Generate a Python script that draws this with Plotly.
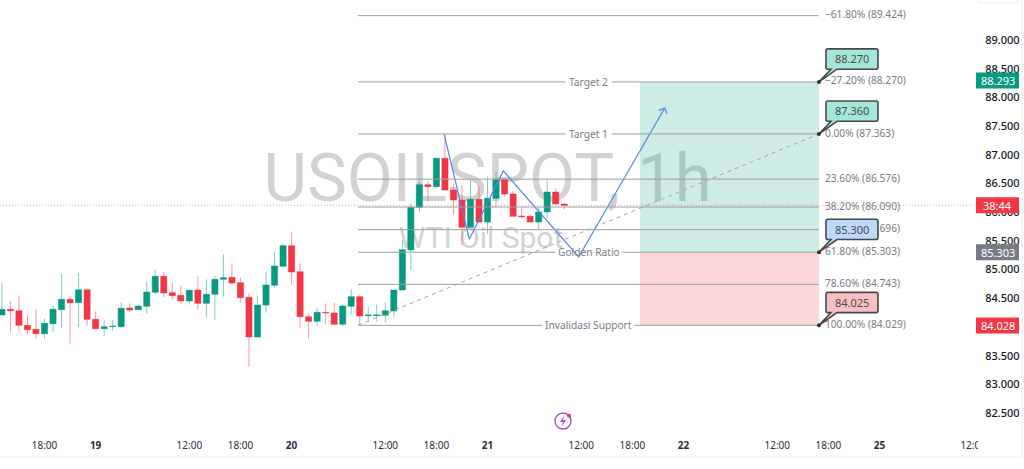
import plotly.graph_objects as go

# ---------- data ----------
opens = [84.209,84.308,84.284,84.029,83.959,83.884,84.058,84.302,84.482,84.424,84.650,84.133,83.971,84.006,84.006,84.331,84.302,84.360,84.604,84.883,84.598,84.552,84.453,84.644,84.412,84.569,84.830,84.865,84.772,84.517,83.826,84.383,84.726,85.057,85.417,84.964,
         84.180,84.098,84.255,84.244,84.046,84.360,84.528,84.197,84.197,84.203,84.279,84.644,85.341,86.085,86.479,86.445,86.938,86.386,86.212,85.736,86.224,85.829,86.241,86.572,86.317,85.934,85.928,85.829,86.003,86.352,86.143]
highs = [84.761,84.453,84.552,84.203,84.313,84.145,84.377,84.935,84.528,84.935,84.650,84.273,84.133,84.122,84.430,84.412,84.406,84.801,84.993,84.958,84.772,84.720,84.650,84.883,84.830,84.888,85.266,85.109,84.865,84.586,84.552,84.958,85.312,85.457,85.649,85.109,
         84.238,84.325,84.412,84.424,84.395,84.662,84.569,84.354,84.395,84.429,84.644,85.515,86.154,86.532,86.543,86.938,87.345,86.503,86.474,86.549,86.445,86.619,86.694,86.572,86.369,86.067,85.957,86.085,86.561,86.416,86.154]
lows = [84.209,83.901,83.924,83.872,83.797,83.797,83.913,83.988,83.710,84.006,84.017,83.965,83.843,83.936,83.977,84.261,84.296,84.232,84.575,84.523,84.476,84.401,84.389,84.296,84.168,84.128,84.528,84.726,84.424,83.309,83.820,84.250,84.685,85.051,84.737,83.988,
        83.785,84.017,84.046,84.035,84.017,84.209,84.035,84.081,84.093,84.075,84.180,84.644,84.993,85.997,86.183,86.427,86.386,85.951,85.428,85.736,85.829,85.620,86.085,86.270,85.922,85.887,85.829,85.701,85.893,86.125,86.050]
closes = [84.308,84.284,84.029,83.953,83.884,84.064,84.308,84.482,84.424,84.650,84.133,83.971,84.006,84.012,84.325,84.296,84.366,84.610,84.883,84.592,84.546,84.453,84.639,84.412,84.569,84.830,84.859,84.766,84.511,83.826,84.383,84.732,85.063,85.417,84.958,84.180,
          84.098,84.255,84.249,84.046,84.366,84.528,84.191,84.209,84.209,84.284,84.644,85.347,86.085,86.479,86.445,86.938,86.386,86.212,85.736,86.224,85.829,86.241,86.572,86.317,85.928,85.922,85.829,86.003,86.352,86.143,86.120]

tick_vals = [5, 11, 22, 28, 34, 45, 51, 57, 68, 74, 80, 91, 97, 103, 114]
tick_text = ["18:00", "<b>19</b>", "12:00", "18:00", "<b>20</b>", "12:00", "18:00", "<b>21</b>",
             "12:00", "18:00", "<b>22</b>", "12:00", "18:00", "<b>25</b>", "12:00"]
price_ticks = [82.5, 83, 83.5, 84, 84.5, 85, 85.5, 86, 86.5, 87, 87.5, 88, 88.5, 89]

fib_prices = [89.424, 88.270, 87.363, 86.576, 86.090, 85.696, 85.303, 84.743, 84.029]
fib_labels = ["−61.80% (89.424)", "−27.20% (88.270)", "0.00% (87.363)", "23.60% (86.576)", "38.20% (86.090)",
              "50.00% (85.696)", "61.80% (85.303)", "78.60% (84.743)", "100.00% (84.029)"]
named_levels = {88.270: ("Target 2", 23), 87.363: ("Target 1", 23), 85.303: ("Golden Ratio", 33), 84.029: ("Invalidasi Support", 46)}

fib_start, fib_end, zone_start = 41.8, 95.9, 74.9
blue_x = [51.9, 54.86, 58.85, 67.7, 77.8]
blue_y = [87.36, 85.53, 86.72, 85.22, 87.815]

callouts = [(88.270, "88.270", "#a5e6da"), (87.363, "87.360", "#a5e6da"),
            (85.303, "85.300", "#bbdafc"), (84.029, "84.025", "#f9c0c4")]
price_tags = [(88.293, "88.293", "#089981"), (86.12, "38:44", "#f23645"),
              (85.303, "85.303", "#787b86"), (84.028, "84.028", "#f23645")]
current_price = 86.12

# ---------- geometry ----------
W, H, PW, PH = 1024, 469, 975, 435
BAR = 8.52
x_range = [-1.9 / BAR, (PW - 1.9) / BAR]
y_range = [89 - (PH - 40) / 57.4, 89 + 40 / 57.4]
px = lambda x: x / PW
py = lambda y: 1 - y / PH
GREEN, RED = "#089981", "#f23645"
FONT = "Noto Sans"
LEVEL = "#9d9fa5"
TXT = "#787b86"
MARK = "#d2d2d2"

fig = go.Figure()

# watermark lives in the base subplot, under the candles of the overlay subplot
fig.add_trace(go.Scatter(x=[(487.5 - 1.9) / BAR], y=[89 - (184 - 40) / 57.4], mode="text", text=["USOILSPOT, 1h"],
                         textfont=dict(family="Roboto", size=67, color=MARK), textposition="middle center",
                         hoverinfo="skip", showlegend=False))
fig.add_trace(go.Scatter(x=[(481 - 1.9) / BAR], y=[89 - (240 - 40) / 57.4], mode="text", text=["WTI Oil Spot"],
                         textfont=dict(family="Roboto", size=30, color=MARK), textposition="middle center",
                         hoverinfo="skip", showlegend=False))

fig.add_trace(go.Candlestick(
    x=list(range(len(opens))), open=opens, high=highs, low=lows, close=closes,
    xaxis="x2", yaxis="y2", whiskerwidth=0, showlegend=False,
    increasing=dict(line=dict(color="rgba(8,153,129,0.5)", width=1), fillcolor=GREEN),
    decreasing=dict(line=dict(color="rgba(242,54,69,0.5)", width=1), fillcolor=RED)))

fig.add_trace(go.Scatter(x=blue_x, y=blue_y, mode="lines", xaxis="x2", yaxis="y2",
                         line=dict(color="#5585f0", width=1.2), hoverinfo="skip", showlegend=False))

fig.add_trace(go.Scatter(x=[96.6] * len(fib_prices), y=fib_prices, mode="text", text=fib_labels,
                         textposition="middle right", xaxis="x2", yaxis="y2",
                         textfont=dict(family=FONT, size=10.2, color=TXT), hoverinfo="skip", showlegend=False))

shapes, annotations = [], []

# zones
shapes.append(dict(type="rect", x0=zone_start, x1=fib_end, y0=fib_prices[6], y1=fib_prices[1], xref="x", yref="y",
                   line_width=0, fillcolor="rgba(8,153,129,0.2)", layer="above"))
shapes.append(dict(type="rect", x0=zone_start, x1=fib_end, y0=fib_prices[8], y1=fib_prices[6], xref="x", yref="y",
                   line_width=0, fillcolor="rgba(242,54,69,0.2)", layer="above"))

# fib levels, broken around their names
mid = (fib_start + fib_end) / 2
for p in fib_prices:
    segs = [(fib_start, fib_end)]
    if p in named_levels:
        name, half = named_levels[p]
        segs = [(fib_start, mid - half / BAR), (mid + half / BAR, fib_end)]
        annotations.append(dict(x=mid, y=p, xref="x", yref="y", text=name, showarrow=False,
                                font=dict(family=FONT, size=10.2, color=TXT)))
    for a, b in segs:
        shapes.append(dict(type="line", x0=a, x1=b, y0=p, y1=p, xref="x", yref="y",
                           line=dict(color=LEVEL, width=1), layer="above"))

# dashed trend
shapes.append(dict(type="line", x0=fib_start, x1=fib_end, y0=fib_prices[8], y1=fib_prices[2], xref="x", yref="y",
                   line=dict(color="#a3a3a3", width=1, dash="4px,4px"), layer="above"))
# current price
shapes.append(dict(type="line", x0=0, x1=1, y0=current_price, y1=current_price, xref="paper", yref="y",
                   line=dict(color="rgba(242,54,69,0.45)", width=1, dash="1px,2px"), layer="above"))
# arrow head
shapes.append(dict(type="path", xref="x", yref="y", xsizemode="pixel", ysizemode="pixel",
                   xanchor=blue_x[-1], yanchor=blue_y[-1], path="M -6,-2.3 L 0,0 L 2.3,-6",
                   line=dict(color="#5585f0", width=1.2), layer="above"))

# callouts
for p, label, col in callouts:
    path = ("M 0,0 L 12,12.7 L 9,12.7 Q 7,12.7 7,14.7 L 7,31 Q 7,33 9,33 L 57,33 Q 59,33 59,31 "
            "L 59,14.7 Q 59,12.7 57,12.7 L 18,12.7 Z")
    shapes.append(dict(type="path", xref="x", yref="y", xsizemode="pixel", ysizemode="pixel",
                       xanchor=fib_end, yanchor=p, path=path, fillcolor=col,
                       line=dict(color="#484848", width=1.6), layer="above"))
    shapes.append(dict(type="circle", xref="x", yref="y", xsizemode="pixel", ysizemode="pixel",
                       xanchor=fib_end, yanchor=p, x0=-2, x1=2, y0=-2, y1=2, fillcolor="#333333",
                       line_width=0, layer="above"))
    annotations.append(dict(x=fib_end, y=p, xref="x", yref="y", xshift=33, yshift=23, text=label, showarrow=False,
                            font=dict(family=FONT, size=11, color="#4a4a4a")))

# price tags on the scale
for p, label, col in price_tags:
    shapes.append(dict(type="rect", xref="paper", yref="y", ysizemode="pixel", yanchor=p, x0=px(976), x1=px(1019),
                       y0=-8, y1=8, fillcolor=col, line_width=0, layer="above"))
    annotations.append(dict(x=1, y=p, xref="paper", yref="y", xshift=22.5, xanchor="center", text=label,
                            showarrow=False, font=dict(family=FONT, size=11, color="white")))

# frame details and mask that cuts the last time label
shapes += [
    dict(type="rect", xref="paper", yref="paper", x0=px(978), x1=px(1021), y0=py(456), y1=py(436),
         fillcolor="white", line_width=0, layer="above"),
    dict(type="line", xref="paper", yref="paper", x0=0, x1=px(1022), y0=py(457), y1=py(457),
         line=dict(color="#eeeeee", width=1), layer="above"),
    dict(type="line", xref="paper", yref="paper", x0=px(1022), x1=px(1022), y0=py(0), y1=py(457),
         line=dict(color="#eeeeee", width=1), layer="above"),
    dict(type="path", xref="paper", yref="paper",
         path=f"M {px(979)},{py(0)} L {px(979)},{py(3)} L {px(1018)},{py(3)} L {px(1018)},{py(0)}",
         line=dict(color="#eeeeee", width=1), layer="above"),
    # lightning icon
    dict(type="circle", xref="paper", yref="paper", x0=px(555), x1=px(571), y0=py(429), y1=py(413),
         line=dict(color="#a94fd1", width=1.4), layer="above"),
    dict(type="path", xref="paper", yref="paper",
         path=(f"M {px(564.5)},{py(415.5)} L {px(560)},{py(422)} L {px(563)},{py(422)} "
               f"L {px(561.5)},{py(426.5)} L {px(566)},{py(420)} L {px(563)},{py(420)} Z"),
         fillcolor="#a94fd1", line_width=0, layer="above"),
    dict(type="circle", xref="paper", yref="paper", x0=px(567), x1=px(571), y0=py(417.7), y1=py(413.7),
         fillcolor="#f23645", line_width=0, layer="above"),
]

axis_common = dict(showgrid=False, zeroline=False, showline=False)
fig.update_layout(
    width=W, height=H, autosize=False,
    margin=dict(l=0, r=W - PW, t=0, b=H - PH, pad=0),
    paper_bgcolor="white", plot_bgcolor="white", showlegend=False, boxgap=0.15, boxgroupgap=0.15,
    font=dict(family=FONT),
    xaxis=dict(range=x_range, tickmode="array", tickvals=tick_vals, ticktext=tick_text,
               ticks="outside", ticklen=1, tickcolor="rgba(0,0,0,0)",
               tickfont=dict(family=FONT, size=10, color="#2a2e39"), **axis_common),
    yaxis=dict(range=y_range, side="right", tickmode="array", tickvals=price_ticks,
               tickformat=".3f", ticks="outside", ticklen=7, tickcolor="rgba(0,0,0,0)",
               tickfont=dict(family=FONT, size=11, color="#131722", weight=500), **axis_common),
    xaxis2=dict(range=x_range, overlaying="x", visible=False, rangeslider=dict(visible=False), anchor="y2"),
    yaxis2=dict(range=y_range, overlaying="y", visible=False, anchor="x2"),
    shapes=shapes, annotations=annotations,
)

fig.write_html("out.html", config=dict(displayModeBar=False),
               post_script="document.body.style.margin='0';")
